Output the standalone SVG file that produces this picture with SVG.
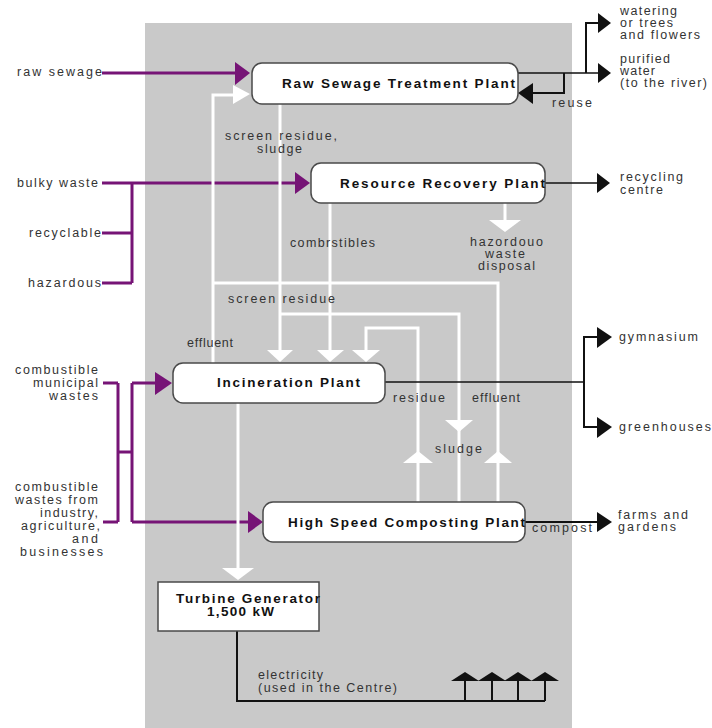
<svg xmlns="http://www.w3.org/2000/svg" width="712" height="728" viewBox="0 0 712 728">
  <style>
    .lbl { font-family: "Liberation Sans", Arial, sans-serif; font-size: 12.5px; fill: #333; }
    .ttl { font-family: "Liberation Sans", Arial, sans-serif; font-size: 13.5px; font-weight: bold; fill: #111; }
    .box { fill: #fff; stroke: #4a4a4a; stroke-width: 1.5; }
    .feed { fill: none; stroke: #761476; stroke-width: 3; }
    .feedhead { fill: #761476; }
    .flow { fill: none; stroke: #fff; stroke-width: 3; }
    .flowhead { fill: #fff; }
    .out { fill: none; stroke: #111; stroke-width: 2; }
    .outthin { fill: none; stroke: #111; stroke-width: 1.4; }
    .outhead { fill: #111; }
  </style>

  <!-- centre site area -->
  <rect x="145" y="23" width="427" height="705" fill="#c9c9c9"/>

  <g id="connectors">
    <!-- purple input feeds -->
    <path class="feed" d="M102,73 H237"/>
    <polygon class="feedhead" points="235,62 250,73 235,85"/>
    <path class="feed" d="M102,183 H296"/>
    <polygon class="feedhead" points="295,172 310,183 295,194"/>
    <path class="feed" d="M102,233 H132 M102,283 H132 M132,183 V283"/>
    <path class="feed" d="M103,383 H118 M103,522 H118 M118,383 V522 M118,452 H132 M132,383 V522 M132,383 H157 M132,522 H249"/>
    <polygon class="feedhead" points="155,372 172,383 155,395"/>
    <polygon class="feedhead" points="248,511 263,522 248,533"/>

    <!-- white internal flows -->
    <path class="flow" d="M213,363 V95 H234"/>
    <polygon class="flowhead" points="233,85 250,94 233,104"/>
    <path class="flow" d="M213,283 H498 V502"/>
    <polygon class="flowhead" points="484,463 498,451 512,463"/>
    <path class="flow" d="M280,104 V351"/>
    <polygon class="flowhead" points="267,350 293,350 280,362"/>
    <path class="flow" d="M280,314 H459 V502"/>
    <polygon class="flowhead" points="445,420 473,420 459,432"/>
    <path class="flow" d="M330,203 V351"/>
    <polygon class="flowhead" points="317,350 344,350 330,362"/>
    <path class="flow" d="M418,502 V328 H366 V351"/>
    <polygon class="flowhead" points="352,350 380,350 366,362"/>
    <polygon class="flowhead" points="403,463 418,451 433,463"/>
    <path class="flow" d="M505,203 V221"/>
    <polygon class="flowhead" points="489,220 521,220 505,232"/>
    <path class="flow" d="M238,403 V569"/>
    <polygon class="flowhead" points="222,568 254,568 238,580"/>

    <!-- black outputs -->
    <path class="outthin" d="M518,73 H599"/>
    <path class="out" d="M586,73 V23 H599"/>
    <polygon class="outhead" points="598,63 611,73 598,83"/>
    <polygon class="outhead" points="598,13 611,23 598,33"/>
    <path class="out" d="M564,73 V93 H532" stroke-width="2.4"/>
    <polygon class="outhead" points="533,83 518,93 533,104"/>
    <path class="outthin" d="M545,183 H598"/>
    <polygon class="outhead" points="597,173 610,183 597,193"/>
    <path class="outthin" d="M385,382 H584"/>
    <path class="out" d="M598,337 H584 V427 H598"/>
    <polygon class="outhead" points="597,327 612,337 597,348"/>
    <polygon class="outhead" points="597,417 612,427 597,438"/>
    <path class="out" d="M525,522 H599" stroke-width="3"/>
    <polygon class="outhead" points="597,512 612,522 597,532"/>
    <path class="out" d="M237,631 V701 H545 M465,701 V680 M492,701 V680 M518,701 V680 M545,701 V680"/>
    <polygon class="outhead" points="451,681 465,672 479,681"/>
    <polygon class="outhead" points="478,681 492,672 506,681"/>
    <polygon class="outhead" points="504,681 518,672 532,681"/>
    <polygon class="outhead" points="531,681 545,672 559,681"/>
  </g>

  <!-- plants -->
  <g id="raw-sewage-plant">
    <rect class="box" x="252" y="63" width="266" height="41" rx="10"/>
    <text class="ttl" x="282" y="88" textLength="233" lengthAdjust="spacing">Raw Sewage Treatment Plant</text>
  </g>
  <g id="resource-recovery-plant">
    <rect class="box" x="311" y="163" width="234" height="40" rx="10"/>
    <text class="ttl" x="340" y="188" textLength="205" lengthAdjust="spacing">Resource Recovery Plant</text>
  </g>
  <g id="incineration-plant">
    <rect class="box" x="173" y="363" width="212" height="40" rx="10"/>
    <text class="ttl" x="217" y="387" textLength="143" lengthAdjust="spacing">Incineration Plant</text>
  </g>
  <g id="composting-plant">
    <rect class="box" x="263" y="502" width="262" height="40" rx="10"/>
    <text class="ttl" x="288" y="527" textLength="237" lengthAdjust="spacing">High Speed Composting Plant</text>
  </g>
  <g id="turbine-generator">
    <rect class="box" x="158" y="582" width="161" height="49"/>
    <text class="ttl" x="176" y="603" textLength="144" lengthAdjust="spacing">Turbine Generator</text>
    <text class="ttl" x="207" y="616" textLength="67" lengthAdjust="spacing">1,500 kW</text>
  </g>

  <!-- inputs -->
  <g id="inputs">
    <text class="lbl" x="17" y="76" textLength="85" lengthAdjust="spacing">raw sewage</text>
    <text class="lbl" x="17" y="187" textLength="81" lengthAdjust="spacing">bulky waste</text>
    <text class="lbl" x="29" y="237" textLength="72" lengthAdjust="spacing">recyclable</text>
    <text class="lbl" x="28" y="287" textLength="73" lengthAdjust="spacing">hazardous</text>
    <text class="lbl" x="15" y="374" textLength="83" lengthAdjust="spacing">combustible</text>
    <text class="lbl" x="33" y="387" textLength="65" lengthAdjust="spacing">municipal</text>
    <text class="lbl" x="49" y="400" textLength="49" lengthAdjust="spacing">wastes</text>
    <text class="lbl" x="15" y="491" textLength="83" lengthAdjust="spacing">combustible</text>
    <text class="lbl" x="15" y="504" textLength="83" lengthAdjust="spacing">wastes from</text>
    <text class="lbl" x="40" y="517" textLength="58" lengthAdjust="spacing">industry,</text>
    <text class="lbl" x="21" y="530" textLength="79" lengthAdjust="spacing">agriculture,</text>
    <text class="lbl" x="72" y="543" textLength="26" lengthAdjust="spacing">and</text>
    <text class="lbl" x="20" y="556" textLength="83" lengthAdjust="spacing">businesses</text>
  </g>

  <!-- flow labels inside the centre -->
  <g id="flow-labels">
    <text class="lbl" x="225" y="140" textLength="112" lengthAdjust="spacing">screen residue,</text>
    <text class="lbl" x="257" y="153" textLength="45" lengthAdjust="spacing">sludge</text>
    <text class="lbl" x="290" y="247" textLength="85" lengthAdjust="spacing">combrstibles</text>
    <text class="lbl" x="470" y="246" textLength="73" lengthAdjust="spacing">hazordouo</text>
    <text class="lbl" x="485" y="258" textLength="40" lengthAdjust="spacing">waste</text>
    <text class="lbl" x="478" y="270" textLength="57" lengthAdjust="spacing">disposal</text>
    <text class="lbl" x="228" y="303" textLength="107" lengthAdjust="spacing">screen residue</text>
    <text class="lbl" x="187" y="347" textLength="46" lengthAdjust="spacing">effluent</text>
    <text class="lbl" x="393" y="402" textLength="52" lengthAdjust="spacing">residue</text>
    <text class="lbl" x="472" y="402" textLength="48" lengthAdjust="spacing">effluent</text>
    <text class="lbl" x="435" y="453" textLength="47" lengthAdjust="spacing">sludge</text>
    <text class="lbl" x="552" y="107" textLength="40" lengthAdjust="spacing">reuse</text>
    <text class="lbl" x="532" y="532" textLength="60" lengthAdjust="spacing">compost</text>
    <text class="lbl" x="258" y="679" textLength="65" lengthAdjust="spacing">electricity</text>
    <text class="lbl" x="258" y="692" textLength="139" lengthAdjust="spacing">(used in the Centre)</text>
  </g>

  <!-- outputs -->
  <g id="outputs">
    <text class="lbl" x="620" y="15" textLength="57" lengthAdjust="spacing">watering</text>
    <text class="lbl" x="620" y="27" textLength="53" lengthAdjust="spacing">or trees</text>
    <text class="lbl" x="620" y="39" textLength="80" lengthAdjust="spacing">and flowers</text>
    <text class="lbl" x="620" y="63" textLength="50" lengthAdjust="spacing">purified</text>
    <text class="lbl" x="620" y="75" textLength="35" lengthAdjust="spacing">water</text>
    <text class="lbl" x="620" y="87" textLength="87" lengthAdjust="spacing">(to the river)</text>
    <text class="lbl" x="620" y="181" textLength="63" lengthAdjust="spacing">recycling</text>
    <text class="lbl" x="620" y="194" textLength="43" lengthAdjust="spacing">centre</text>
    <text class="lbl" x="619" y="341" textLength="79" lengthAdjust="spacing">gymnasium</text>
    <text class="lbl" x="619" y="431" textLength="92" lengthAdjust="spacing">greenhouses</text>
    <text class="lbl" x="618" y="519" textLength="70" lengthAdjust="spacing">farms and</text>
    <text class="lbl" x="618" y="531" textLength="58" lengthAdjust="spacing">gardens</text>
  </g>
</svg>
